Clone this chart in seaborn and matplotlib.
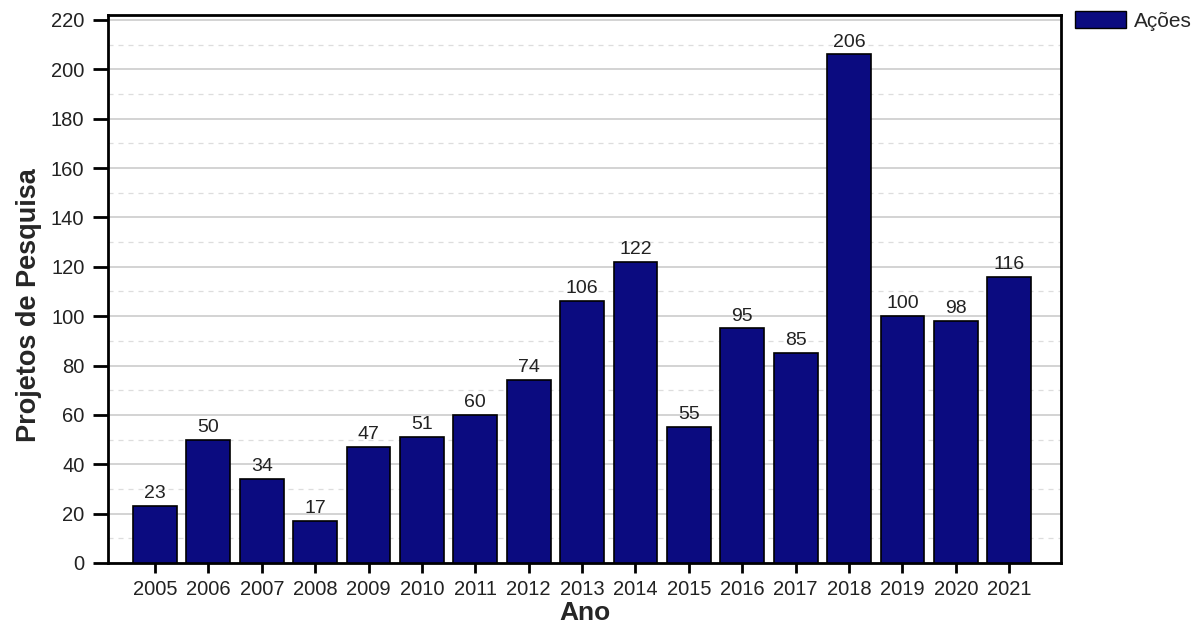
import matplotlib
matplotlib.use("Agg")
import matplotlib.pyplot as plt
from matplotlib.ticker import MultipleLocator
from matplotlib.patches import Patch
import seaborn as sns
import pandas as pd

anos = ["2005", "2006", "2007", "2008", "2009", "2010", "2011", "2012", "2013",
        "2014", "2015", "2016", "2017", "2018", "2019", "2020", "2021"]
projetos = [23, 50, 34, 17, 47, 51, 60, 74, 106, 122, 55, 95, 85, 206, 100, 98, 116]
serie = "Ações"

df = pd.DataFrame({"Ano": anos, "Projetos": projetos})

sns.set_style("white")
plt.rcParams["font.family"] = ["Liberation Sans", "DejaVu Sans"]

fig = plt.figure(figsize=(12.04, 6.33), dpi=100)
ax = fig.add_axes([0.0897, 0.1106, 0.7915, 0.8657])

bar_color = "#0b0b80"
sns.barplot(data=df, x="Ano", y="Projetos", color=bar_color, saturation=1,
            width=0.82, edgecolor="black", linewidth=1.2, ax=ax, zorder=3)

for i, v in enumerate(projetos):
    ax.text(i, v + 1.6, str(v), ha="center", va="bottom", fontsize=14,
            color="#222222", zorder=4)

ax.set_ylim(0, 222)
ax.set_xlim(-0.88, 16.97)
ax.yaxis.set_major_locator(MultipleLocator(20))
ax.yaxis.set_minor_locator(MultipleLocator(10))
ax.grid(which="major", axis="y", color="#cccccc", linewidth=1.2, zorder=0)
ax.grid(which="minor", axis="y", color="#dddddd", linewidth=0.9,
        linestyle=(0, (4, 4)), zorder=0)

for s in ax.spines.values():
    s.set_color("black")
    s.set_linewidth(2)
    s.set_visible(True)

ax.tick_params(axis="both", which="major", direction="out", width=2,
               color="black", labelsize=14.5, labelcolor="#222222")
ax.tick_params(axis="y", which="minor", left=False)
ax.tick_params(axis="y", which="major", left=True, length=11, pad=6)
ax.tick_params(axis="x", which="major", bottom=True, length=7, pad=5)

ax.set_xlabel("Ano", fontsize=19, fontweight="bold", labelpad=2)
ax.set_ylabel("Projetos de Pesquisa", fontsize=19.5, fontweight="bold")
ax.yaxis.set_label_coords(-0.069, 0.47)

handle = Patch(facecolor=bar_color, edgecolor="black", linewidth=1)
fig.legend([handle], [serie], loc="upper left",
           bbox_to_anchor=(1075 / 1204, 1 - 11 / 633),
           frameon=False, fontsize=15, handlelength=2.45, handleheight=0.9,
           handletextpad=0.4, borderpad=0, borderaxespad=0)

fig.savefig("out.png", dpi=100)
